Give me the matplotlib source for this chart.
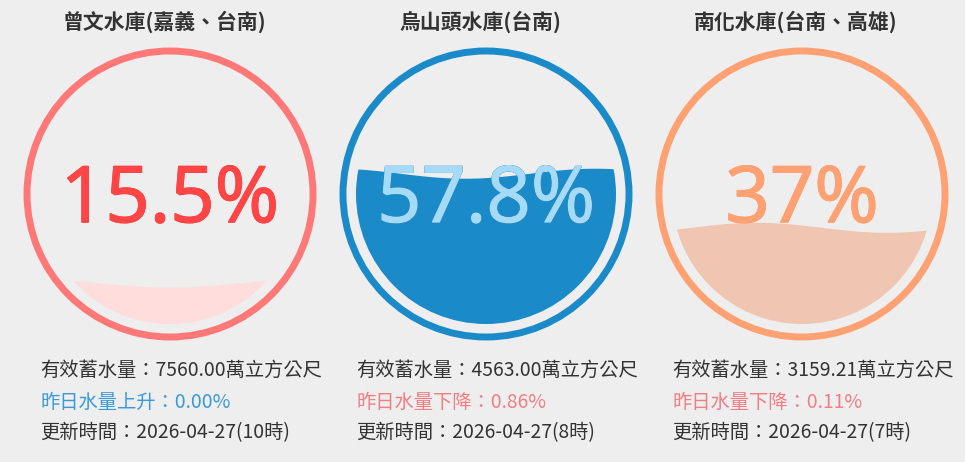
import matplotlib
matplotlib.use("Agg")
import matplotlib.pyplot as plt
import matplotlib.patheffects as pe
import numpy as np
from matplotlib.patches import Circle, Polygon

plt.rcParams['font.family'] = ['Noto Sans CJK TC', 'DejaVu Sans']

# reservoir data
names = ["曾文水庫(嘉義、台南)", "烏山頭水庫(台南)", "南化水庫(台南、高雄)"]
percents = [15.5, 57.8, 37]
pct_labels = ["15.5%", "57.8%", "37%"]
storage = ["7560.00", "4563.00", "3159.21"]
change_dir = ["上升", "下降", "下降"]
change_pct = ["0.00", "0.86", "0.11"]
update_time = ["2026-04-27(10時)", "2026-04-27(8時)", "2026-04-27(7時)"]

# styles
ring_colors = ["#FF7878", "#1A8AC9", "#FFA172"]
fill_colors = ["#FFDDDD", "#1A8AC9", "#F0C5B2"]
text_out = ["#FF4545", "#08598A", "#FFA172"]
text_in = ["#FF4545", "#A6DBF8", "#FFA172"]
wave_phase = [0.0, 0.5, -2.05]
wave_amp = [4, 5, 5]
up_color = "#3A9AD6"
down_color = "#F07E84"
dark = "#333333"

W, H = 965, 462
fig = plt.figure(figsize=(W / 100, H / 100), dpi=100)
fig.patch.set_facecolor("#EEEEEE")
ax = fig.add_axes([0, 0, 1, 1])
ax.set_xlim(0, W)
ax.set_ylim(H, 0)
ax.axis("off")

centers_x = [170, 486, 802]
cy = 194
r_ring = 143
r_fill = 130
k = 2 * np.pi / (2 * r_fill)
pct_font = dict(fontsize=56, family=["Open Sans", "DejaVu Sans"])
pct_base = 222

for i in range(3):
    cx = centers_x[i]
    ax.text(cx - 6, 22, names[i], ha="center", va="center", fontsize=15,
            fontweight="bold", color=dark)

    ring = Circle((cx, cy), r_ring, fill=False, lw=5.0, ec=ring_colors[i])
    ax.add_patch(ring)

    # text behind the water
    ax.text(cx, pct_base, pct_labels[i], ha="center", va="baseline", color=text_out[i],
            path_effects=[pe.withStroke(linewidth=1.0, foreground=text_out[i])], **pct_font)

    level = cy + r_fill - 2 * r_fill * percents[i] / 100.0
    xs = np.linspace(cx - r_fill, cx + r_fill, 200)
    ys = level + wave_amp[i] * np.cos(k * (xs - cx) + wave_phase[i])
    pts = list(zip(xs, ys)) + [(cx + r_fill, cy + r_fill + 5), (cx - r_fill, cy + r_fill + 5)]
    water = Polygon(pts, closed=True, fc=fill_colors[i], ec="none")
    ax.add_patch(water)
    clip = Circle((cx, cy), r_fill, transform=ax.transData)
    water.set_clip_path(clip)

    # text inside the water
    t = ax.text(cx, pct_base, pct_labels[i], ha="center", va="baseline", color=text_in[i],
                path_effects=[pe.withStroke(linewidth=1.0, foreground=text_in[i])], **pct_font)
    t.set_clip_path(water)

    lx = cx - 130
    ax.text(lx, 370, "有效蓄水量：" + storage[i] + "萬立方公尺", ha="left", va="center",
            fontsize=13.9, color=dark)
    col = up_color if change_dir[i] == "上升" else down_color
    ax.text(lx, 402, "昨日水量" + change_dir[i] + "：" + change_pct[i] + "%", ha="left",
            va="center", fontsize=13.9, color=col)
    ax.text(lx, 433, "更新時間：" + update_time[i], ha="left", va="center",
            fontsize=13.9, color=dark)

fig.savefig("out.png", dpi=100, facecolor=fig.get_facecolor())
